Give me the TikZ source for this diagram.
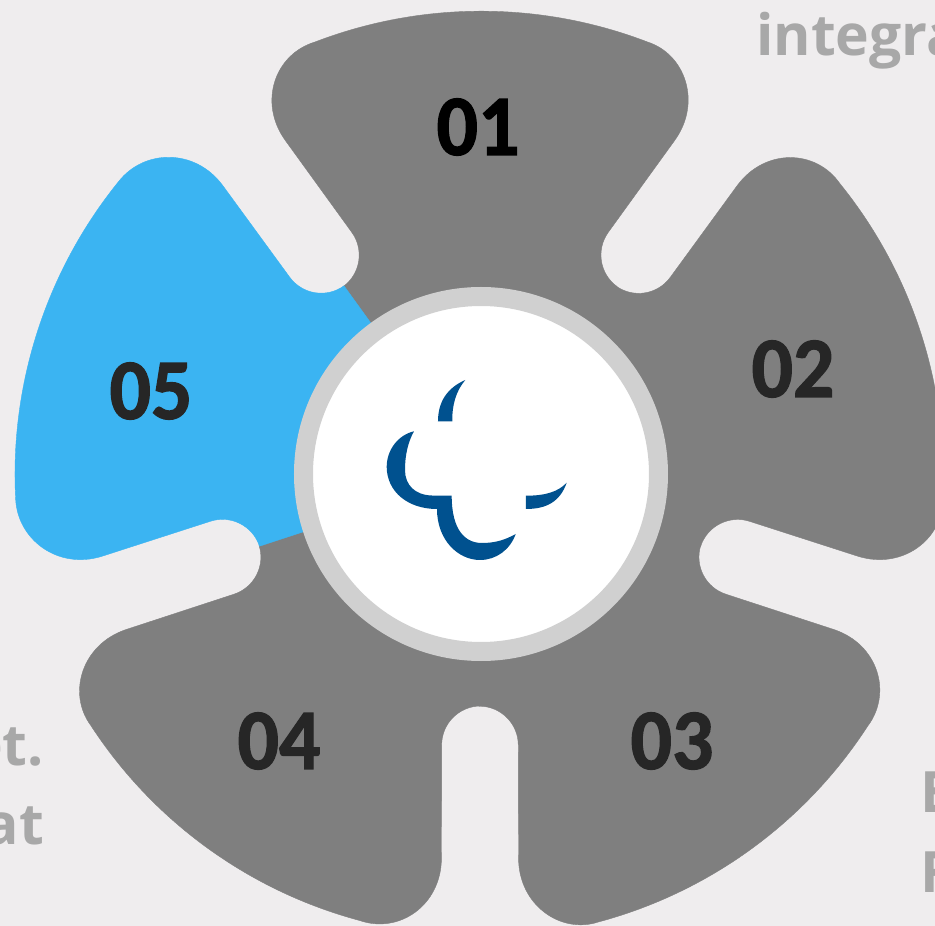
\documentclass[tikz,border=0pt]{standalone}
\usepackage{fontspec}
\setmainfont{Carlito}
\newfontfamily\fadedfont{Open Sans}
\newfontfamily\numfont[FakeStretch=0.95, BoldFeatures={FakeBold=1.5}]{Carlito}
\definecolor{pagebg}{HTML}{EFEDEE}
\definecolor{petalgray}{HTML}{7F7F7F}
\definecolor{petalblue}{HTML}{3BB4F2}
\definecolor{ringgray}{HTML}{D0D0D0}
\definecolor{logoblue}{HTML}{00518F}
\definecolor{fadedtext}{HTML}{A8A8A8}
\definecolor{numdark}{HTML}{262626}
% corner x, corner y, outer radius
\newcommand{\petalshape}[3]{(0, 0) -- (-136.8, 187.4)
    arc[start angle=-53.8, end angle=36.2, radius=39] -- (-195, 334)
    .. controls (-222, 372) and (-205, 420) .. (-#1, #2)
    arc[start angle=111, end angle=69, radius=#3]
    .. controls (205, 420) and (222, 372) .. (195, 334) -- (128.5, 242)
    arc[start angle=143.8, end angle=233.8, radius=39] -- cycle}
\tikzstyle{petal}=[fill=petalgray, draw=petalgray, line width=0.4pt]
\tikzstyle{bluepetal}=[fill=petalblue, draw=petalblue, line width=0.4pt]
\tikzstyle{numlabel}=[font=\numfont\bfseries\fontsize{86}{86}\selectfont, text=numdark, inner sep=0]
\tikzstyle{backtext}=[font=\fadedfont\bfseries\fontsize{57}{57}\selectfont, text=fadedtext, inner sep=0]
\tikzstyle{logopart}=[fill=logoblue]

\begin{document}
\begin{tikzpicture}[x=1pt, y=1pt]
        \clip (-480, -452) rectangle (455, 474);
        \fill[pagebg] (-480, -452) rectangle (455, 474);
        % Faded text running off the page.
        \node[backtext, anchor=base west] (integra) at (276, 418) {integra};
        \node[backtext, anchor=base east] (amet) at (-436, -291) {et.};
        \node[backtext, anchor=base east] (feat) at (-436, -370) {at};
        \node[backtext, anchor=base west] (rightE) at (440, -338) {E};
        \node[backtext, anchor=base west] (rightF) at (440, -418) {F};
        % Petals.
        \foreach \ang in {0, -72, -144, -216} {
            \draw[petal, rotate=\ang] \petalshape{165}{432}{464};
        }
        \draw[bluepetal, rotate=72] \petalshape{167}{434}{465.5};
        \node[numlabel, text=black] (one) at (-2, 347) {01};
        \node[numlabel] (two) at (313, 105) {02};
        \node[numlabel] (three) at (192, -267) {03};
        \node[numlabel] (four) at (-201, -267) {04};
        \node[numlabel] (five) at (-329, 83) {05};
        % Centre disc and logo.
        \node[circle, fill=white, draw=ringgray, line width=19pt, minimum size=355pt, inner sep=0] (hub) at (1, 0) {};
        \begin{scope}[shift={(-480, 474)}, yscale=-1]
            \fill[logopart] (465.3, 380) .. controls (447, 388) and (438, 402) .. (438, 421.3)
                -- (452.3, 421.3) .. controls (452, 405) and (456, 391) .. cycle;
            \fill[logopart] (414, 431.3) .. controls (398, 435) and (386.7, 450) .. (386.7, 467)
                .. controls (387, 492) and (408, 509) .. (437, 509)
                .. controls (437, 540) and (458, 560) .. (480, 560)
                .. controls (496, 560) and (510, 550) .. (515.7, 534)
                .. controls (505, 540) and (495, 543) .. (482, 543)
                .. controls (465, 543) and (451.7, 530) .. (451.7, 495.7)
                -- (431.7, 495.5) .. controls (415, 495) and (405, 485) .. (405, 470)
                .. controls (405, 455) and (408, 442) .. cycle;
            \fill[logopart] (566.7, 482.7) .. controls (558, 492) and (545, 495.7) .. (526, 495.7)
                -- (526, 509) .. controls (546, 509) and (560, 502) .. cycle;
        \end{scope}
    \end{tikzpicture}
\end{document}
